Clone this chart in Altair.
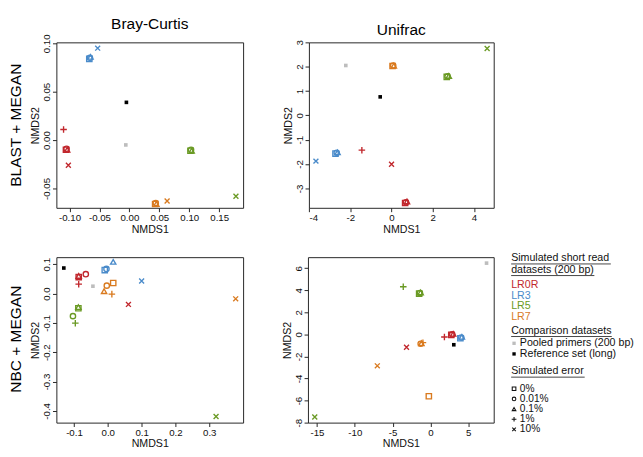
import altair as alt
import pandas as pd

FONT = "Liberation Sans"

GROUPS = ["LR0R", "LR3", "LR5", "LR7", "Pooled", "Reference"]
GROUP_COLORS = ["#c1272d", "#4a8bca", "#6a9a24", "#d97a1f", "#bdbdbd", "#000000"]
KINDS = ["0%", "0.01%", "0.1%", "1%", "10%", "comparison"]
PLUS = "M-1,0L1,0M0,-1L0,1"
CROSS = "M-0.75,-0.75L0.75,0.75M-0.75,0.75L0.75,-0.75"
KIND_SHAPES = ["square", "circle", "triangle-up", PLUS, CROSS, "square"]

# ---- Panel 1: BLAST + MEGAN, Bray-Curtis ----
p1_group = ["LR0R", "LR0R", "LR0R", "LR0R", "LR0R",
            "LR3", "LR3", "LR3", "LR3",
            "LR5", "LR5", "LR5", "LR5",
            "LR7", "LR7", "LR7", "LR7",
            "Pooled", "Reference"]
p1_kind = ["0%", "0.01%", "0.1%", "1%", "10%",
           "0%", "0.01%", "0.1%", "10%",
           "0%", "0.01%", "0.1%", "10%",
           "0%", "0.01%", "0.1%", "10%",
           "comparison", "comparison"]
p1_x = [-0.106, -0.105, -0.104, -0.110, -0.102,
        -0.067, -0.066, -0.065, -0.053,
        0.102, 0.103, 0.104, 0.178,
        0.043, 0.044, 0.045, 0.063,
        -0.006, -0.005]
p1_y = [-0.010, -0.009, -0.010, 0.011, -0.026,
        0.084, 0.085, 0.086, 0.095,
        -0.011, -0.010, -0.011, -0.058,
        -0.066, -0.065, -0.066, -0.063,
        -0.005, 0.039]

# ---- Panel 2: BLAST + MEGAN, Unifrac ----
p2_group = ["Pooled", "Reference",
            "LR7", "LR7", "LR7",
            "LR5", "LR5", "LR5", "LR5",
            "LR3", "LR3", "LR3", "LR3",
            "LR0R", "LR0R", "LR0R", "LR0R", "LR0R"]
p2_kind = ["comparison", "comparison",
           "0%", "0.01%", "0.1%",
           "0%", "0.01%", "0.1%", "10%",
           "0%", "0.01%", "0.1%", "10%",
           "0%", "0.01%", "0.1%", "1%", "10%"]
p2_x = [-2.22, -0.55,
        0.05, 0.08, 0.11,
        2.68, 2.72, 2.78, 4.64,
        -2.72, -2.66, -2.62, -3.67,
        0.66, 0.70, 0.75, -1.44, 0.00]
p2_y = [2.05, 0.76,
        2.03, 2.05, 2.04,
        1.58, 1.60, 1.62, 2.75,
        -1.57, -1.54, -1.52, -1.88,
        -3.60, -3.57, -3.54, -1.43, -2.01]

# ---- Panel 3: NBC + MEGAN, Bray-Curtis ----
p3_group = ["Reference", "Pooled",
            "LR0R", "LR0R", "LR0R", "LR0R", "LR0R",
            "LR3", "LR3", "LR3", "LR3",
            "LR7", "LR7", "LR7", "LR7", "LR7",
            "LR5", "LR5", "LR5", "LR5", "LR5"]
p3_kind = ["comparison", "comparison",
           "0%", "0.01%", "0.1%", "1%", "10%",
           "0%", "0.01%", "0.1%", "10%",
           "0%", "0.01%", "0.1%", "1%", "10%",
           "0%", "0.01%", "0.1%", "1%", "10%"]
p3_x = [-0.130, -0.044,
        -0.086, -0.065, -0.086, -0.086, 0.061,
        -0.009, -0.004, 0.016, 0.100,
        0.016, -0.003, -0.011, 0.012, 0.378,
        -0.087, -0.103, -0.087, -0.096, 0.320]
p3_y = [0.087, 0.025,
        0.056, 0.066, 0.060, 0.032, -0.037,
        0.080, 0.084, 0.108, 0.043,
        0.036, 0.027, 0.008, -0.002, -0.018,
        -0.050, -0.077, -0.046, -0.101, -0.419]

# ---- Panel 4: NBC + MEGAN, Unifrac ----
p4_group = ["Pooled", "Reference",
            "LR5", "LR5", "LR5", "LR5", "LR5",
            "LR0R", "LR0R", "LR0R", "LR0R", "LR0R",
            "LR3", "LR3", "LR3",
            "LR7", "LR7", "LR7", "LR7", "LR7"]
p4_kind = ["comparison", "comparison",
           "0%", "0.01%", "0.1%", "1%", "10%",
           "0%", "0.01%", "0.1%", "1%", "10%",
           "0%", "0.01%", "0.1%",
           "0%", "0.01%", "0.1%", "1%", "10%"]
p4_x = [7.41, 3.08,
        -1.50, -1.40, -1.30, -3.60, -15.30,
        2.75, 2.87, 3.00, 1.84, -3.17,
        3.95, 4.07, 4.15,
        -0.22, -1.30, -1.20, -1.00, -7.03]
p4_y = [6.46, -0.94,
        3.70, 3.75, 3.80, 4.32, -7.49,
        -0.05, 0.00, 0.05, -0.24, -1.17,
        -0.35, -0.29, -0.22,
        -5.61, -0.85, -0.80, -0.75, -2.85]

MINUS = "\u2212"
OPEN_FILTER = "indexof(['0%', '0.01%', '0.1%'], datum.kind) >= 0"
LINE_FILTER = "indexof(['1%', '10%'], datum.kind) >= 0"
COMP_FILTER = "datum.kind == 'comparison'"


def label_expr(fmt):
    return f"replace(format(datum.value, '{fmt}'), '{MINUS}', '-')"


def panel(x, y, g, k, xdom, ydom, xticks, yticks, fx, fy, w, h, title=None):
    df = pd.DataFrame({"x": x, "y": y, "group": g, "kind": k})
    X = alt.X("x:Q", scale=alt.Scale(domain=xdom, nice=False, zero=False),
              axis=alt.Axis(values=xticks, labelExpr=label_expr(fx), title="NMDS1"))
    Y = alt.Y("y:Q", scale=alt.Scale(domain=ydom, nice=False, zero=False),
              axis=alt.Axis(values=yticks, labelExpr=label_expr(fy), title="NMDS2",
                            labelAngle=-90, labelAlign="center", labelBaseline="bottom"))
    color = alt.Color("group:N", scale=alt.Scale(domain=GROUPS, range=GROUP_COLORS), legend=None)
    shape = alt.Shape("kind:N", scale=alt.Scale(domain=KINDS, range=KIND_SHAPES), legend=None)
    base = alt.Chart(df).encode(x=X, y=Y, color=color, shape=shape)
    opened = base.transform_filter(OPEN_FILTER).mark_point(
        filled=False, size=30, strokeWidth=1.4, opacity=1)
    lined = base.transform_filter(LINE_FILTER).mark_point(
        filled=False, size=46, strokeWidth=1.4, opacity=1)
    filled = base.transform_filter(COMP_FILTER).mark_point(
        filled=True, size=14, opacity=1)
    ch = alt.layer(opened, lined, filled).properties(width=w, height=h)
    if title:
        ch = ch.properties(title=alt.TitleParams(title, fontSize=16, fontWeight="normal",
                                                 anchor="middle", offset=2, font=FONT))
    return ch


p1 = panel(p1_x, p1_y, p1_group, p1_kind, [-0.122, 0.19], [-0.07, 0.101],
           [-0.10, -0.05, 0.0, 0.05, 0.10, 0.15], [-0.05, 0.0, 0.05, 0.10],
           ".2f", ".2f", 193, 171, "Bray-Curtis")
p2 = panel(p2_x, p2_y, p2_group, p2_kind, [-4.01, 4.96], [-3.8, 3.0],
           [-4, -2, 0, 2, 4], [-3, -2, -1, 0, 1, 2, 3],
           "d", "d", 191, 171, "Unifrac")
p3 = panel(p3_x, p3_y, p3_group, p3_kind, [-0.152, 0.40], [-0.44, 0.124],
           [-0.1, 0.0, 0.1, 0.2, 0.3], [-0.4, -0.3, -0.2, -0.1, 0.0, 0.1],
           ".1f", ".1f", 193, 171)
p4 = panel(p4_x, p4_y, p4_group, p4_kind, [-16.2, 8.36], [-8.0, 7.0],
           [-15, -10, -5, 0, 5], [-8, -6, -4, -2, 0, 2, 4, 6],
           "d", "d", 192, 171)

# ---- Custom legend ----
leg_text = ["Simulated short read", "datasets (200 bp)",
            "LR0R", "LR3", "LR5", "LR7",
            "Comparison datasets",
            "Pooled primers (200 bp)", "Reference set (long)",
            "Simulated error",
            "0%", "0.01%", "0.1%", "1%", "10%"]
leg_role = ["header", "header",
            "group", "group", "group", "group",
            "header",
            "comparison", "comparison",
            "header",
            "error", "error", "error", "error", "error"]
leg_group = ["", "", "LR0R", "LR3", "LR5", "LR7", "", "Pooled", "Reference", "",
             "", "", "", "", ""]
leg_kind = ["", "", "", "", "", "", "", "comparison", "comparison", "",
            "0%", "0.01%", "0.1%", "1%", "10%"]
header_width = {"Simulated short read": 103, "datasets (200 bp)": 86,
                "Comparison datasets": 104, "Simulated error": 76}

LW, LH = 126, 171
row_y = [1, 13, 29, 40, 51, 62, 76, 89, 100, 118, 136, 146.5, 157, 167.5, 178]
row_fs = [11, 11, 11, 11, 11, 11, 11, 11, 11, 11, 10.5, 10.5, 10.5, 10.5, 10.5]
ldf = pd.DataFrame({"text": leg_text, "role": leg_role, "group": leg_group,
                    "kind": leg_kind, "ypos": row_y, "fs": row_fs})
ldf["tx"] = [0 if r in ("header", "group") else 9 for r in leg_role]
ldf["sx"] = 3
ldf["ux2"] = [header_width.get(t, 0) for t in leg_text]
ldf["uy"] = ldf["ypos"] + 6
ldf["tcolor"] = [GROUP_COLORS[GROUPS.index(g)] if r == "group" else "#111111"
                 for g, r in zip(leg_group, leg_role)]

lx = alt.Scale(domain=[0, LW], range=[0, LW])
ly = alt.Scale(domain=[0, LH], range=[0, LH])
lbase = alt.Chart(ldf)
ltext = lbase.mark_text(align="left", baseline="middle", font=FONT).encode(
    x=alt.X("tx:Q", scale=lx, axis=None),
    y=alt.Y("ypos:Q", scale=ly, axis=None),
    text="text:N",
    size=alt.Size("fs:Q", scale=None),
    color=alt.Color("tcolor:N", scale=None),
)
lrule = lbase.transform_filter("datum.role == 'header'").mark_rule(
    color="#111111", strokeWidth=0.8).encode(
    x=alt.X("tx:Q", scale=lx, axis=None), x2="ux2:Q",
    y=alt.Y("uy:Q", scale=ly, axis=None))
lsym_enc = dict(
    x=alt.X("sx:Q", scale=lx, axis=None),
    y=alt.Y("ypos:Q", scale=ly, axis=None),
    shape=alt.Shape("kind:N", scale=alt.Scale(domain=KINDS, range=KIND_SHAPES), legend=None))
lsym_open = lbase.transform_filter(OPEN_FILTER).mark_point(
    filled=False, size=14, strokeWidth=1.1, color="#111111", opacity=1).encode(**lsym_enc)
lsym_line = lbase.transform_filter(LINE_FILTER).mark_point(
    filled=False, size=24, strokeWidth=1.1, color="#111111", opacity=1).encode(**lsym_enc)
lsym_fill = lbase.transform_filter("datum.role == 'comparison'").mark_point(
    filled=True, size=12, opacity=1, shape="square").encode(
    x=alt.X("sx:Q", scale=lx, axis=None),
    y=alt.Y("ypos:Q", scale=ly, axis=None),
    color=alt.Color("group:N", scale=alt.Scale(domain=GROUPS, range=GROUP_COLORS), legend=None))
legend = alt.layer(lrule, ltext, lsym_open, lsym_line, lsym_fill).properties(
    width=LW, height=LH, view=alt.ViewConfig(stroke=None))

row_title = dict(orient="left", anchor="middle", fontSize=16, fontWeight="normal",
                 font=FONT, offset=6)
row1 = alt.hconcat(p1, p2, spacing=39,
                   title=alt.TitleParams("BLAST + MEGAN", **row_title))
row2 = alt.hconcat(alt.hconcat(p3, p4, spacing=38), legend, spacing=15,
                   title=alt.TitleParams("NBC + MEGAN", dx=12, **row_title))

chart = alt.vconcat(row1, row2, spacing=18).properties(padding=0).configure(
    font=FONT
).configure_view(stroke="#222222", strokeWidth=1).configure_axis(
    grid=False, domain=False, ticks=True, tickColor="#222222", tickSize=4,
    labelFontSize=10, labelColor="#111111", labelFont=FONT, labelPadding=1,
    titleFontSize=11, titleFontWeight="normal", titleColor="#111111",
    titleFont=FONT, titlePadding=1
).configure_concat(spacing=20)

chart.save("out.html", embed_options={"renderer": "svg", "actions": False})
